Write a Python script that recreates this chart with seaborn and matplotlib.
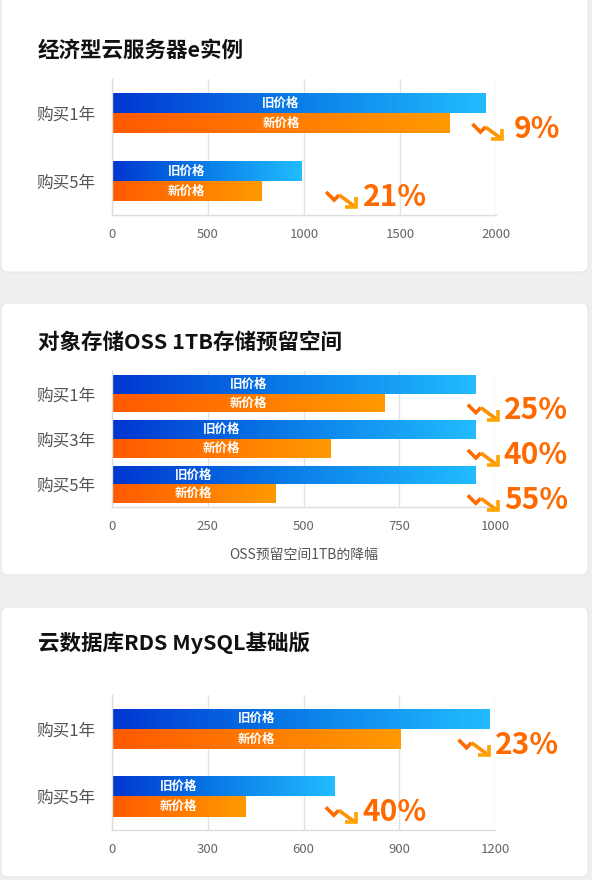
import numpy as np
import pandas as pd
import matplotlib
matplotlib.use("Agg")
import matplotlib.pyplot as plt
import seaborn as sns
from matplotlib.colors import LinearSegmentedColormap
from matplotlib.patches import FancyBboxPatch

# ---- data ----
ecs_terms = ["购买1年", "购买5年"]
ecs_old = [1945, 985]
ecs_new = [1760, 778]
ecs_cut = ["9%", "21%"]

oss_terms = ["购买1年", "购买3年", "购买5年"]
oss_old = [950, 950, 950]
oss_new = [712, 570, 427]
oss_cut = ["25%", "40%", "55%"]

rds_terms = ["购买1年", "购买5年"]
rds_old = [1183, 698]
rds_new = [905, 419]
rds_cut = ["23%", "40%"]

series = ["旧价格", "新价格"]

W, H = 592, 880
sns.set_style("white")
plt.rcParams["font.family"] = ["Noto Sans CJK SC", "DejaVu Sans"]

blue_cmap = LinearSegmentedColormap.from_list("b", ["#0036d0", "#0a7ee8", "#22bcff"])
orange_cmap = LinearSegmentedColormap.from_list("o", ["#ff5a00", "#ff7a00", "#ff9a00"])

fig = plt.figure(figsize=(W / 100, H / 100), dpi=100)
fig.patch.set_facecolor("#efefef")

# background cards in pixel coordinates
bg = fig.add_axes([0, 0, 1, 1], zorder=0)
bg.set_xlim(0, W)
bg.set_ylim(H, 0)
bg.axis("off")
for top, bottom in [(-12, 272), (303, 575), (607, 877)]:
    bg.add_patch(FancyBboxPatch((1, top), 587, bottom - top,
                                boxstyle="round,pad=0,rounding_size=7",
                                fc="white", ec="#e6e6e6", lw=0.8))

over = fig.add_axes([0, 0, 1, 1], zorder=10)
over.set_xlim(0, W)
over.set_ylim(H, 0)
over.axis("off")
over.patch.set_alpha(0)


def px_rect(l, t, r, b):
    return [l / W, 1 - b / H, (r - l) / W, (b - t) / H]


def draw_icon(x0, y0):
    # zigzag "down" arrow, x0/y0 = top-left in pixels
    kw = dict(lw=2.6, solid_joinstyle="miter", solid_capstyle="butt")
    over.plot([x0, x0 + 8, x0 + 13], [y0, y0 + 8, y0 + 3], color="#ff6a00", **kw)
    over.plot([x0 + 13, x0 + 28], [y0 + 3, y0 + 14], color="#ff9200", **kw)
    over.plot([x0 + 19, x0 + 30, x0 + 30], [y0 + 15, y0 + 15, y0 + 5],
              color="#ffa400", **kw)


panels = [
    dict(title="经济型云服务器e实例", title_y=50, rect=(112, 79, 496, 215),
         terms=ecs_terms, old=ecs_old, new=ecs_new, cut=ecs_cut,
         xmax=2000, ticks=[0, 500, 1000, 1500, 2000], width=0.59,
         dx=[-13, 25], gap=[41, 37], xlabel=""),
    dict(title="对象存储OSS 1TB存储预留空间", title_y=342, rect=(112, 371, 495, 507),
         terms=oss_terms, old=oss_old, new=oss_new, cut=oss_cut,
         xmax=1000, ticks=[0, 250, 500, 750, 1000], width=0.82,
         dx=[-8, -8, -8], gap=[36, 36, 36], xlabel="OSS预留空间1TB的降幅"),
    dict(title="云数据库RDS MySQL基础版", title_y=643, rect=(112, 695, 495, 830),
         terms=rds_terms, old=rds_old, new=rds_new, cut=rds_cut,
         xmax=1200, ticks=[0, 300, 600, 900, 1200], width=0.6,
         dx=[-31, -9], gap=[36, 37], xlabel=""),
]

for p in panels:
    ax = fig.add_axes(px_rect(*p["rect"]), zorder=5)
    ax.patch.set_alpha(0)
    n = len(p["terms"])
    df = pd.DataFrame({
        "期限": p["terms"] * 2,
        "类型": [series[0]] * n + [series[1]] * n,
        "价格": list(p["old"]) + list(p["new"]),
    })
    sns.barplot(data=df, x="价格", y="期限", hue="类型", hue_order=series,
                palette=["#0a7ee8", "#ff7a00"], orient="h", width=p["width"],
                saturation=1, legend=False, ax=ax)

    # gradient fills
    for cont, cmap in zip(ax.containers, [blue_cmap, orange_cmap]):
        for bar in cont:
            x0, y0 = bar.get_x(), bar.get_y()
            w, h = bar.get_width(), bar.get_height()
            grad = np.linspace(0, 1, 256).reshape(1, -1)
            im = ax.imshow(grad, extent=[x0, x0 + w, y0 + h, y0], cmap=cmap,
                           aspect="auto", zorder=2, interpolation="bicubic")
            im.set_clip_path(bar)
            bar.set_facecolor("none")
            bar.set_edgecolor("none")

    ax.set_xlim(0, p["xmax"])
    ax.set_ylim(n - 0.5, -0.5)
    ax.set_xticks(p["ticks"])
    ax.set_xticklabels([str(t) for t in p["ticks"]])
    ax.grid(axis="x", color="#e3e3e3", lw=1)
    ax.set_axisbelow(True)
    for s in ["top", "right"]:
        ax.spines[s].set_visible(False)
    for s in ["left", "bottom"]:
        ax.spines[s].set_color("#dddddd")
        ax.spines[s].set_linewidth(1)
    ax.tick_params(axis="x", length=0, pad=9, labelsize=9.5, labelcolor="#666666")
    ax.tick_params(axis="y", length=0, pad=12, labelsize=12, labelcolor="#555555")
    ax.set_ylabel("")
    ax.set_xlabel(p["xlabel"], fontsize=10, color="#555555", labelpad=11)

    # labels inside the bars
    old_bars, new_bars = ax.containers[0], ax.containers[1]
    for ob, nb, nv in zip(old_bars, new_bars, p["new"]):
        for bar, name in [(ob, series[0]), (nb, series[1])]:
            ax.text(nv / 2, bar.get_y() + bar.get_height() / 2, name, color="white",
                    fontsize=9, weight="bold", ha="center", va="center", zorder=4)

    # drop labels with the zigzag icon
    for i, (ov, txt, dx, gap) in enumerate(zip(p["old"], p["cut"], p["dx"], p["gap"])):
        X, Y = ax.transData.transform((ov, i))
        xpx = X + dx
        ypx = H - Y + 16  # text centre in pixels (y down)
        draw_icon(xpx, ypx - 5)
        over.text(xpx + gap, ypx, txt, color="#ff6a00", fontsize=21.5,
                  ha="left", va="center", weight="bold")

    over.text(38, p["title_y"], p["title"], fontsize=15.5, weight="bold",
              color="#111111", ha="left", va="center")

fig.savefig("out.png", dpi=100, facecolor=fig.get_facecolor())
